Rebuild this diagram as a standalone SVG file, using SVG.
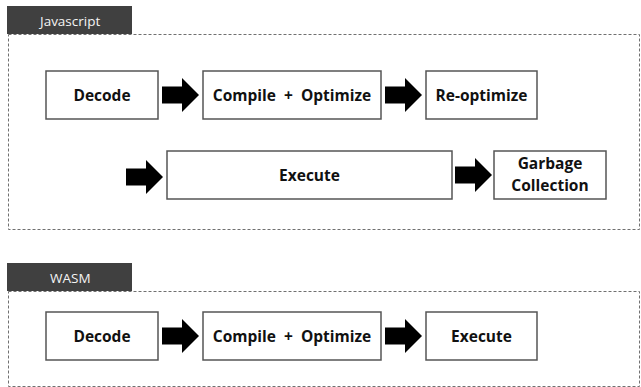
<svg xmlns="http://www.w3.org/2000/svg" width="641" height="387" viewBox="0 0 641 387">
<defs>
<style>
.frame{fill:none;stroke:#707070;stroke-width:1;stroke-dasharray:3 2}
.tab{fill:#404040}
.tabtxt{font-family:"Open Sans","Noto Sans",sans-serif;font-size:13.5px;fill:#f4f4f4}
.box{fill:#fff;stroke:#555;stroke-width:1.5}
.lbl{font-family:"Open Sans","Noto Sans",sans-serif;font-weight:bold;font-size:15.5px;fill:#111;text-anchor:middle}
.arr{fill:#000}
</style>
<path id="arrow" d="M0,-8.5 H20 V-17 L37,0 L20,17 V8.5 H0 Z"/>
</defs>
<g id="js-section">
<rect class="frame" x="8.5" y="34.5" width="631" height="195"/>
<rect class="tab" x="7" y="6" width="125" height="28"/>
<text class="tabtxt" x="40" y="26">Javascript</text>
</g>
<g id="wasm-section">
<rect class="frame" x="8.5" y="291.5" width="631" height="95"/>
<rect class="tab" x="7" y="263" width="125" height="28"/>
<text class="tabtxt" x="50" y="283">WASM</text>
</g>
<g id="connectors">
<use href="#arrow" class="arr" x="162" y="95"/>
<use href="#arrow" class="arr" x="385" y="95"/>
<use href="#arrow" class="arr" x="126" y="177"/>
<use href="#arrow" class="arr" x="455" y="175"/>
<use href="#arrow" class="arr" x="162" y="336"/>
<use href="#arrow" class="arr" x="385" y="336"/>
</g>
<g id="js-decode"><rect class="box" x="46" y="71" width="112" height="48"/><text class="lbl" x="102" y="100.5">Decode</text></g>
<g id="js-compile"><rect class="box" x="203" y="71" width="178" height="48"/><text class="lbl" x="292" y="100.5" xml:space="preserve">Compile  +  Optimize</text></g>
<g id="js-reoptimize"><rect class="box" x="426" y="71" width="111" height="48"/><text class="lbl" x="481.5" y="100.5">Re-optimize</text></g>
<g id="js-execute"><rect class="box" x="167" y="151" width="285" height="48"/><text class="lbl" x="309.5" y="180.5">Execute</text></g>
<g id="js-gc"><rect class="box" x="494" y="151" width="112" height="48"/><text class="lbl" x="550" y="169">Garbage</text><text class="lbl" x="550" y="191">Collection</text></g>
<g id="wasm-decode"><rect class="box" x="46" y="312" width="112" height="48"/><text class="lbl" x="102" y="341.5">Decode</text></g>
<g id="wasm-compile"><rect class="box" x="203" y="312" width="178" height="48"/><text class="lbl" x="292" y="341.5" xml:space="preserve">Compile  +  Optimize</text></g>
<g id="wasm-execute"><rect class="box" x="426" y="312" width="111" height="48"/><text class="lbl" x="481.5" y="341.5">Execute</text></g>
</svg>
